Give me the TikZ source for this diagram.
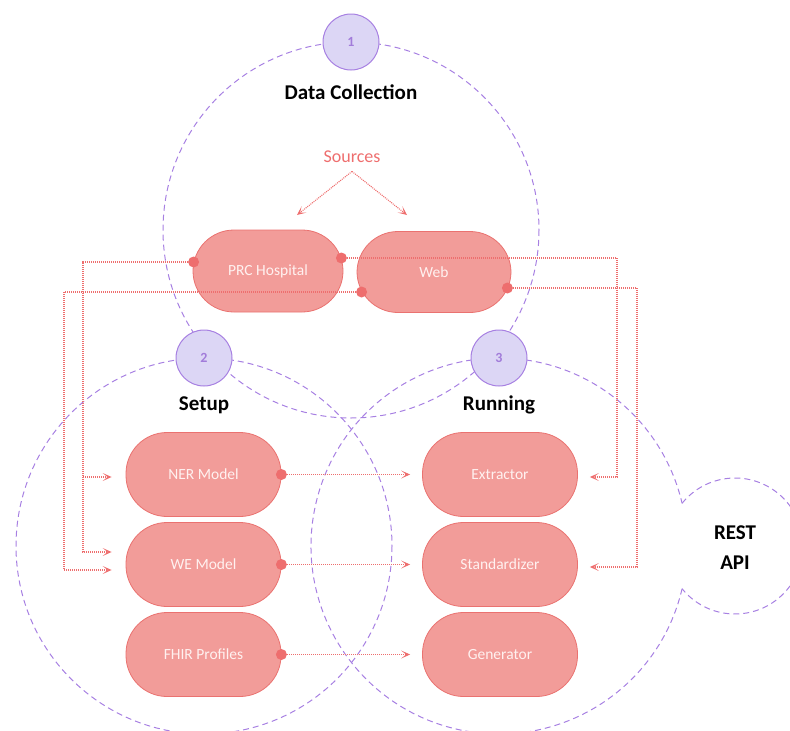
\documentclass[tikz,border=0pt]{standalone}
\usepackage{fontspec}
\setmainfont{Carlito}
\usetikzlibrary{arrows.meta,calc}

\definecolor{ringc}{HTML}{A780E2}
\definecolor{badgefill}{HTML}{DCD6F5}
\definecolor{badgetext}{HTML}{A27CDA}
\definecolor{pillfill}{HTML}{F29C99}
\definecolor{pilldraw}{HTML}{EA7270}
\definecolor{pilltext}{HTML}{FFF1F0}
\definecolor{linkc}{HTML}{EE6E6E}

\begin{document}
\begin{tikzpicture}[x=1pt,y=-1pt,
  ring/.style={draw=ringc, line width=1pt, dash pattern=on 6pt off 4pt},
  badge/.style={circle, draw=ringc, fill=badgefill, line width=1pt, minimum size=56pt,
    inner sep=0pt, text=badgetext, font=\fontsize{14}{16}\selectfont\bfseries},
  heading/.style={font=\fontsize{21}{30}\selectfont\bfseries, align=center},
  pill/.style={draw=pilldraw, fill=pillfill, line width=0.8pt, rounded corners=41pt,
    minimum width=155pt, minimum height=84pt, inner sep=0pt, text=pilltext,
    font=\fontsize{15.5}{18}\selectfont},
  link/.style={draw=linkc, line width=1.1pt, dash pattern=on 1pt off 1pt},
  linkarrow/.style={link, -{Stealth[length=9pt,width=8pt,inset=5pt]}},
  dot/.style={circle, fill=linkc, minimum size=11pt, inner sep=0pt},
]
\useasboundingbox (0,0) rectangle (790,731);
\clip (0,0) rectangle (790,731);

% phase rings
\draw[ring] (351,230) circle[radius=188];
\draw[ring] (204,546) circle[radius=188];
\draw[ring] (499,546) ++(13.13:188) arc[start angle=13.13, end angle=346.87, radius=188];
\draw[ring] (735,546) ++(-141.1:68) arc[start angle=-141.1, end angle=141.1, radius=68];

% phase badges
\node[badge] (b1) at (351,42) {1};
\node[badge] (b2) at (204,358) {2};
\node[badge] (b3) at (499,358) {3};

% headings
\node[heading] (hdata) at (351,92) {Data Collection};
\node[heading] (hsetup) at (204,405) {Setup};
\node[heading] (hrun) at (499,405) {Running};
\node[heading] (hrest) at (735,548) {REST\\API};

% sources
\node[text=linkc, font=\fontsize{18}{20}\selectfont] (src) at (352,157) {Sources};
\node[pill, minimum width=150pt, minimum height=82pt] (prc) at (268,271) {PRC Hospital};
\node[pill, minimum width=154pt, minimum height=81pt] (web) at (434,272) {Web};

% setup components
\node[pill] (ner) at (203.5,474.5) {NER Model};
\node[pill] (we) at (203.5,564.5) {WE Model};
\node[pill] (fhir) at (203.5,654.5) {FHIR Profiles};

% running components
\node[pill] (ext) at (500,474.5) {Extractor};
\node[pill] (std) at (500,564.5) {Standardizer};
\node[pill] (gen) at (500,654.5) {Generator};

% connector ports
\coordinate (prcL) at ([xshift=1pt,yshift=9pt]prc.west);
\coordinate (prcR) at ([xshift=-2pt,yshift=13pt]prc.east);
\coordinate (webL) at ([xshift=5pt,yshift=-20pt]web.west);
\coordinate (webR) at ([xshift=-4pt,yshift=-16pt]web.east);
\coordinate (fork) at ($(src.south)+(0,5)$);
\coordinate (toprc) at (297,215);
\coordinate (toweb) at (407,215);

% sources fan-out
\draw[linkarrow] (fork) -- (toprc);
\draw[linkarrow] (fork) -- (toweb);

% sources to setup
\draw[linkarrow] (prcL) -| (83,477) -- ([xshift=-14pt,yshift=-2.5pt]ner.west);
\draw[linkarrow] (83,477) -- (83,552) -- ([xshift=-14pt,yshift=12.5pt]we.west);
\draw[linkarrow] (webL) -| (64,570) -- ([xshift=-14pt,yshift=-5.5pt]we.west);

% sources to running
\draw[linkarrow] (prcR) -| (617,477) -- ([xshift=12pt,yshift=-2.5pt]ext.east);
\draw[linkarrow] (webR) -| (637,567) -- ([xshift=12pt,yshift=-2.5pt]std.east);

% setup to running
\draw[linkarrow] (ner.east) -- ($(ner.east -| ext.west)+(-12,0)$);
\draw[linkarrow] (we.east) -- ($(we.east -| std.west)+(-12,0)$);
\draw[linkarrow] (fhir.east) -- ($(fhir.east -| gen.west)+(-12,0)$);

% port dots
\node[dot] at (prcL) {};
\node[dot] at (prcR) {};
\node[dot] at (webL) {};
\node[dot] at (webR) {};
\node[dot] at (ner.east) {};
\node[dot] at (we.east) {};
\node[dot] at (fhir.east) {};
\end{tikzpicture}
\end{document}
